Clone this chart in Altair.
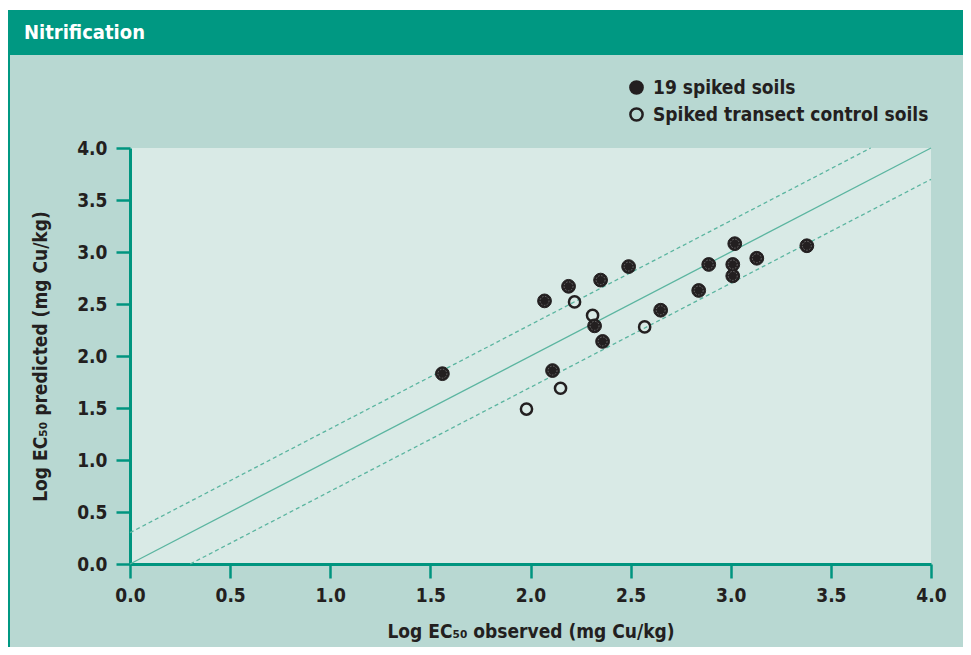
import altair as alt
import pandas as pd

# ---- data ----
filled_x = [1.56, 2.07, 2.19, 2.35, 2.49, 2.11, 2.32, 2.36, 2.65, 2.84, 2.89, 3.02, 3.01, 3.01, 3.13, 3.38]
filled_y = [1.83, 2.53, 2.67, 2.73, 2.86, 1.86, 2.29, 2.14, 2.44, 2.63, 2.88, 3.08, 2.88, 2.77, 2.94, 3.06]
open_x = [2.22, 2.31, 2.57, 2.15, 1.98]
open_y = [2.52, 2.39, 2.28, 1.69, 1.49]

label_filled = "19 spiked soils"
label_open = "Spiked transect control soils"

line_group = ["1:1", "1:1", "upper", "upper", "lower", "lower"]
line_x = [0.0, 4.0, 0.0, 3.699, 0.301, 4.0]
line_y = [0.0, 4.0, 0.301, 4.0, 0.0, 3.699]

ticks = [0.0, 0.5, 1.0, 1.5, 2.0, 2.5, 3.0, 3.5, 4.0]

pts = pd.DataFrame({
    "obs": filled_x + open_x,
    "pred": filled_y + open_y,
    "type": [label_filled] * len(filled_x) + [label_open] * len(open_x),
})
lines = pd.DataFrame({"g": line_group, "obs": line_x, "pred": line_y})

FONT = "DejaVu Sans Condensed, Liberation Sans Narrow, DejaVu Sans"
INK = "#231F20"
GREEN = "#009882"
AXIS = "#00957F"
LINE = "#5BB5A0"
FS = 19

W, H = 801, 416
PL, PT = 122, 140
TOTAL_W, TOTAL_H = 955, 639

xs = alt.Scale(domain=[0, 4], nice=False, zero=False)
ys = alt.Scale(domain=[0, 4], nice=False, zero=False)

x_enc = alt.X("obs:Q", scale=xs, axis=alt.Axis(
    values=ticks, format=".1f", title="Log EC₅₀ observed (mg Cu/kg)",
    grid=False, domainColor=AXIS, domainWidth=3, tickColor=AXIS, tickWidth=2.5,
    tickSize=14, labelFont=FONT, labelFontSize=FS, labelFontWeight="bold",
    labelColor=INK, labelPadding=8, labelFlush=False, titleFont=FONT, titleFontSize=FS,
    titleFontWeight="bold", titleColor=INK, titlePadding=17))
y_enc = alt.Y("pred:Q", scale=ys, axis=alt.Axis(
    values=ticks, format=".1f", title="Log EC₅₀ predicted (mg Cu/kg)",
    grid=False, domainColor=AXIS, domainWidth=3, tickColor=AXIS, tickWidth=2.5,
    tickSize=14, labelFont=FONT, labelFontSize=FS, labelFontWeight="bold",
    labelColor=INK, labelPadding=9, labelFlush=False, titleFont=FONT, titleFontSize=FS,
    titleFontWeight="bold", titleColor=INK, titlePadding=26))

one = alt.Data(values=[{"a": 1}])

white_strip = alt.Chart(one).mark_rect(color="white").encode(
    x=alt.value(-PL), x2=alt.value(TOTAL_W - PL), y=alt.value(-PT), y2=alt.value(-PT + 2))
title_bar = alt.Chart(one).mark_rect(color=GREEN).encode(
    x=alt.value(-PL), x2=alt.value(TOTAL_W - PL), y=alt.value(-PT + 2), y2=alt.value(-PT + 47))
left_border = alt.Chart(one).mark_rect(color=GREEN).encode(
    x=alt.value(-PL), x2=alt.value(-PL + 2), y=alt.value(-PT + 47), y2=alt.value(TOTAL_H - PT))
title_text = alt.Chart(one).mark_text(
    text="Nitrification", color="white", font=FONT, fontSize=20, fontWeight="bold",
    align="left", baseline="middle").encode(x=alt.value(-PL + 16), y=alt.value(-PT + 25))

ref_solid = alt.Chart(lines).transform_filter(alt.datum.g == "1:1").mark_line(
    color=LINE, strokeWidth=1.3).encode(x=x_enc, y=y_enc)
ref_dash = alt.Chart(lines).transform_filter(alt.datum.g != "1:1").mark_line(
    color=LINE, strokeWidth=1.3, strokeDash=[4, 3]).encode(
    x=alt.X("obs:Q", scale=xs), y=alt.Y("pred:Q", scale=ys), detail="g:N")

fill_scale = alt.Scale(domain=[label_filled, label_open], range=[INK, "transparent"])
legend = alt.Legend(title=None, orient="none", legendX=497, legendY=-70,
                    labelFont=FONT, labelFontSize=FS, labelFontWeight="bold",
                    labelColor=INK, labelLimit=0, symbolSize=150, symbolStrokeColor=INK,
                    symbolStrokeWidth=2.5, labelOffset=7, rowPadding=4,
                    padding=0, symbolType="circle")

filled_pts = alt.Chart(pts).transform_filter(alt.datum.type == label_filled).mark_circle(
    stroke=INK, strokeWidth=1, size=190, opacity=1).encode(
    x=alt.X("obs:Q", scale=xs), y=alt.Y("pred:Q", scale=ys),
    fill=alt.Fill("type:N", scale=fill_scale, legend=legend))

open_pts = alt.Chart(pts).transform_filter(alt.datum.type == label_open).mark_circle(
    stroke=INK, strokeWidth=2.5, size=125, opacity=1).encode(
    x=alt.X("obs:Q", scale=xs), y=alt.Y("pred:Q", scale=ys),
    fill=alt.Fill("type:N", scale=fill_scale, legend=legend))

rings = alt.Chart(pts).transform_filter(alt.datum.type == label_filled).mark_point(
    shape="circle", size=80, filled=False, stroke="#8a8a8a", strokeWidth=0.7,
    strokeDash=[1.5, 1.5], opacity=1).encode(
    x=alt.X("obs:Q", scale=xs), y=alt.Y("pred:Q", scale=ys))

chart = alt.layer(white_strip, title_bar, left_border, title_text,
                  ref_solid, ref_dash, filled_pts, open_pts, rings).properties(
    width=W, height=H,
    autosize=alt.AutoSizeParams(type="none"),
    padding={"left": PL, "top": PT, "right": TOTAL_W - PL - W, "bottom": TOTAL_H - PT - H},
    background="#B8D8D2",
).configure_view(fill="#D9EAE6", stroke=None)

chart.save("out.html", embed_options={"renderer": "svg", "actions": False})
